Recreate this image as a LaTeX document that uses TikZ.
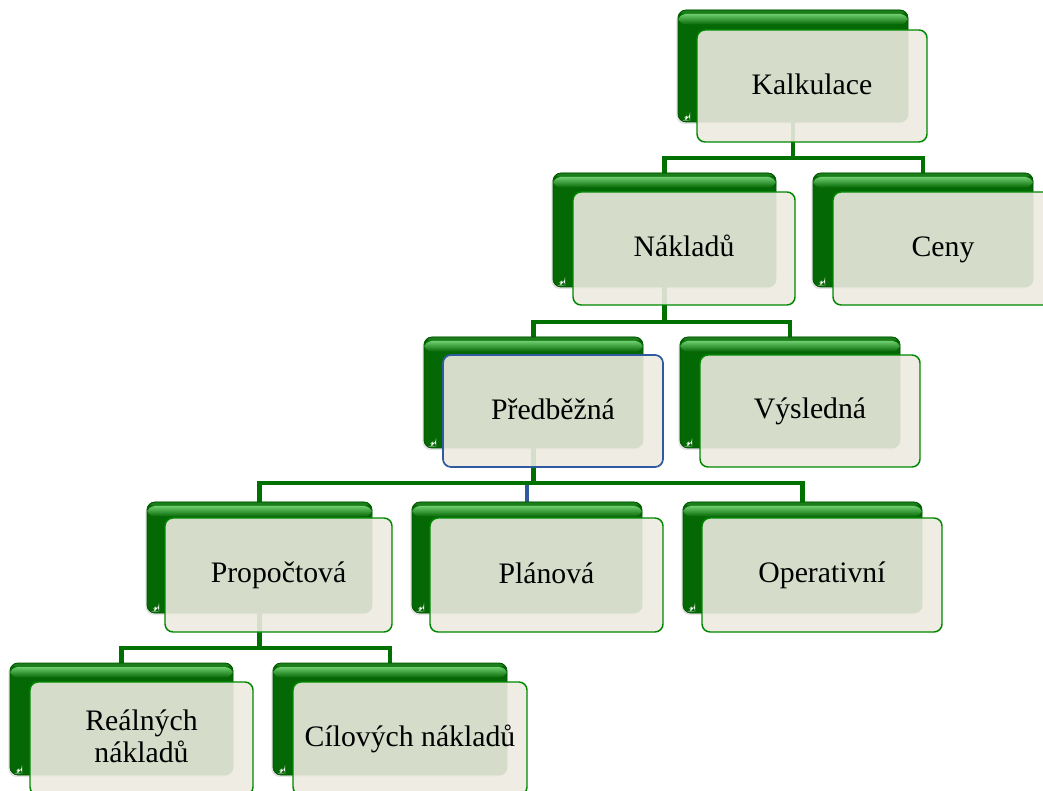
\documentclass[tikz,border=0pt]{standalone}
\usepackage{fontspec}
\setmainfont{Liberation Serif}
\usetikzlibrary{shadows}
\pgfdeclarelayer{bg}
\pgfsetlayers{bg,main}

\definecolor{gdark}{RGB}{4,104,4}
\definecolor{gedge}{RGB}{0,85,0}
\definecolor{glight}{RGB}{110,205,110}
\definecolor{gtop}{RGB}{25,125,25}
\definecolor{gline}{RGB}{0,112,0}
\definecolor{fbeige}{RGB}{236,234,224}
\definecolor{fborder}{RGB}{0,135,0}
\definecolor{selblue}{RGB}{48,90,160}

% invisible strut that fixes each text line's height and depth
\newcommand\lnstrut{\rule[-4pt]{0pt}{20.5pt}}

\tikzset{
  sz/.style 2 args={minimum width=#1*0.75pt, minimum height=#2*0.75pt},
  backbox/.style={rectangle, rounded corners=6pt, fill=gdark, draw=gedge,
    line width=0.6pt, inner sep=0pt,
    drop shadow={shadow xshift=-1.2pt, shadow yshift=-1.5pt, opacity=0.22},
    path picture={
      \shade[top color=gtop, bottom color=glight]
        (path picture bounding box.north west) rectangle
        ([yshift=-3pt]path picture bounding box.north east);
      \shade[top color=glight, bottom color=gdark]
        ([yshift=-3pt]path picture bounding box.north west) rectangle
        ([yshift=-11pt]path picture bounding box.north east);
      \fill[white]
        ([shift={(2.5pt,1.2pt)}]path picture bounding box.south west) --
        ([shift={(9pt,1.2pt)}]path picture bounding box.south west) --
        ([shift={(9pt,7pt)}]path picture bounding box.south west) -- cycle;
    }},
  frontbox/.style={rectangle, rounded corners=6pt, fill=fbeige,
    fill opacity=0.9, text opacity=1, draw=fborder, line width=1.1pt,
    align=center, inner sep=2pt,
    font=\fontsize{22.3}{24}\selectfont},
  selected/.style={draw=selblue, line width=1.3pt},
  conn/.style={draw=gline, line width=3.4pt},
  selconn/.style={draw=selblue, line width=3.4pt},
}

\begin{document}
\begin{tikzpicture}[x=0.75pt, y=-0.75pt]
\useasboundingbox (0,0) rectangle (1043,791);
\clip (0,0) rectangle (1043,791);

% level 0
\node[backbox, sz={230}{112}] (kalkB) at (793,66) {};
\node[frontbox, sz={230}{112}] (kalk) at (812,86) {\lnstrut Kalkulace};

% level 1
\node[backbox, sz={223}{114}] (nakB) at (664.5,230) {};
\node[frontbox, sz={222}{113}] (nak) at (684,248.5) {\lnstrut Nákladů};
\node[backbox, sz={220}{114}] (cenB) at (923,230) {};
\node[frontbox, sz={220}{113}] (cen) at (943,248.5) {\lnstrut Ceny};

% level 2
\node[backbox, sz={219}{111}] (predB) at (533.5,392.5) {};
\node[frontbox, selected, sz={220}{112}] (pred) at (553,411) {\lnstrut Předběžná};
\node[backbox, sz={220}{111}] (vysB) at (790,392.5) {};
\node[frontbox, sz={220}{112}] (vys) at (810,411) {\lnstrut Výsledná};

% level 3
\node[backbox, sz={225}{111}] (propB) at (259.5,557.5) {};
\node[frontbox, sz={227}{114}] (prop) at (278.5,575) {\lnstrut Propočtová};
\node[backbox, sz={230}{111}] (planB) at (527,557.5) {};
\node[frontbox, sz={233}{114}] (plan) at (546.5,575) {\lnstrut Plánová};
\node[backbox, sz={239}{111}] (operB) at (802.5,557.5) {};
\node[frontbox, sz={240}{114}] (oper) at (822,575) {\lnstrut Operativní};

% level 4
\node[backbox, sz={223}{112}] (realB) at (121.5,719) {};
\node[frontbox, sz={223}{113}] (real) at (141.5,738.5) {\lnstrut Reálných\\\lnstrut nákladů};
\node[backbox, sz={234}{112}] (cilB) at (390,719) {};
\node[frontbox, sz={234}{113}] (cil) at (410,738.5) {\lnstrut Cílových nákladů};

% elbow connectors, kept beneath the boxes
\begin{pgfonlayer}{bg}
  \coordinate (j1) at (kalkB.center |- 0,158);
  \coordinate (j2) at (nakB.center |- 0,322);
  \coordinate (j3) at (predB.center |- 0,483);
  \coordinate (j4) at (propB.center |- 0,648);

  \draw[selconn] (planB.north |- j3) -- (planB.north);

  \draw[conn] (kalkB.center) -- (j1) -| (nakB.north);
  \draw[conn] (j1) -| (cenB.north);

  \draw[conn] (nakB.center) -- (j2) -| (predB.north);
  \draw[conn] (j2) -| (vysB.north);

  \draw[conn] (predB.center) -- (j3) -| (propB.north);
  \draw[conn] (j3) -| (operB.north);

  \draw[conn] (propB.center) -- (j4) -| (realB.north);
  \draw[conn] (j4) -| (cilB.north);
\end{pgfonlayer}
\end{tikzpicture}
\end{document}
